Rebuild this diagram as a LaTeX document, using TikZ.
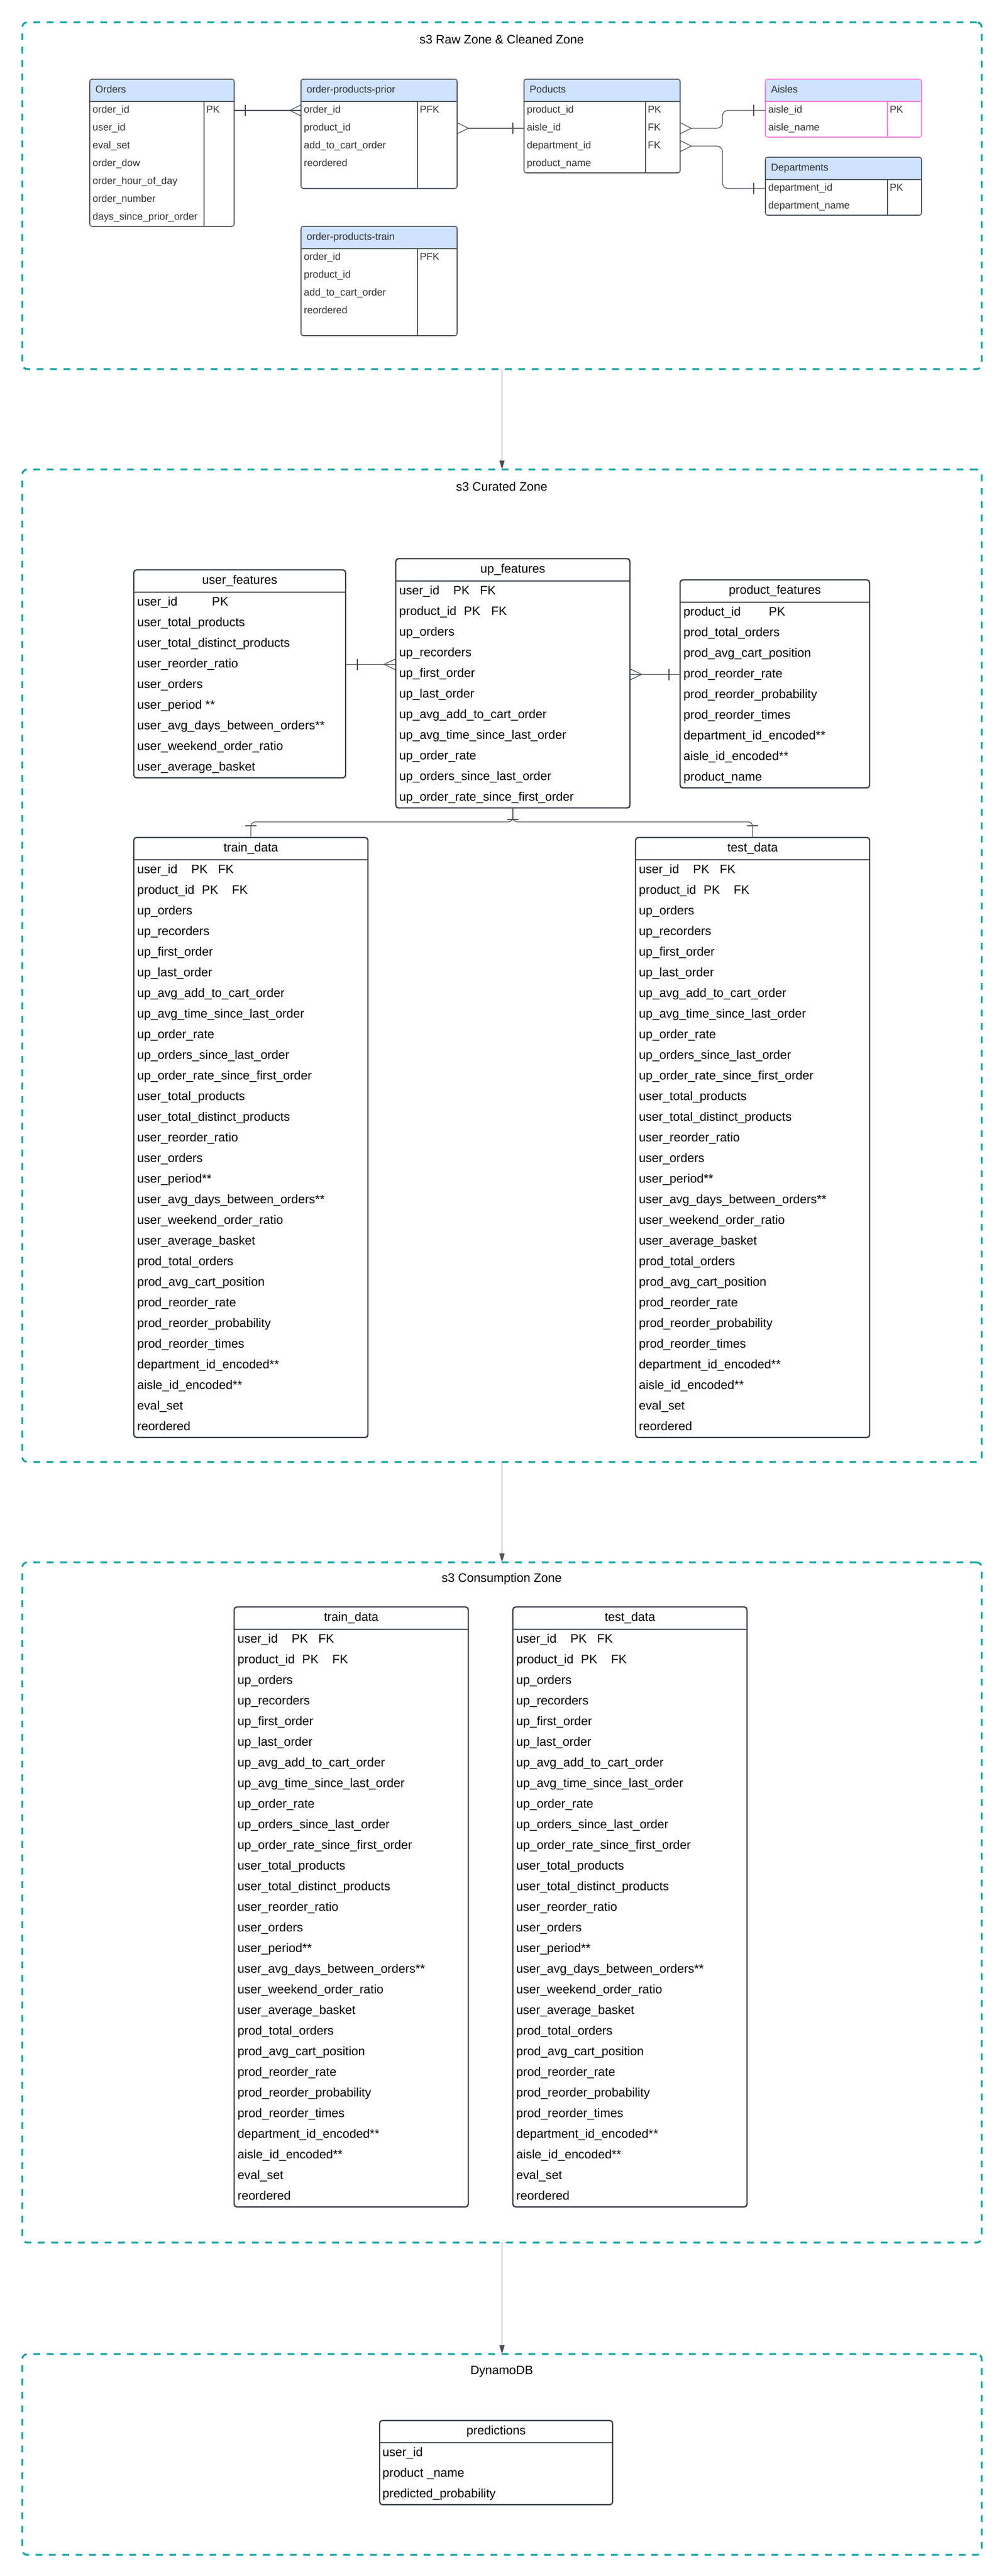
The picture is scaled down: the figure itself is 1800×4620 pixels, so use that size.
\documentclass[tikz,border=0pt]{standalone}
\usepackage{fontspec}
\setmainfont{Liberation Sans}
\usetikzlibrary{arrows.meta,calc}
\definecolor{zoneteal}{RGB}{17,164,162}
\definecolor{hdrblue}{RGB}{207,226,255}
\definecolor{aislepink}{RGB}{255,128,222}
\definecolor{rzline}{RGB}{84,90,98}
\definecolor{ctline}{RGB}{58,64,74}
\definecolor{connline}{RGB}{74,80,88}
\definecolor{txtgray}{RGB}{51,51,51}
\tikzset{
  zonebox/.style={draw=zoneteal, line width=3.3pt, dash pattern=on 12pt off 12pt, rounded corners=9pt, anchor=north west, inner sep=0pt, outer sep=0pt},
  ztitle/.style={font=\fontsize{22}{26}\selectfont, text=black, inner sep=0pt},
  rzbox/.style={draw=rzline, line width=1.6pt, rounded corners=4pt, anchor=north west, inner sep=0pt, outer sep=0pt},
  rztext/.style={font=\fontsize{18}{21}\selectfont, text=txtgray, inner sep=0pt, anchor=west, text height=13pt, text depth=4pt},
  ctbox/.style={draw=ctline, line width=2.4pt, rounded corners=5pt, anchor=north west, inner sep=0pt, outer sep=0pt},
  cttext/.style={font=\fontsize{22}{26}\selectfont, text=black, inner sep=0pt, anchor=west, text height=16pt, text depth=5pt},
  cthead/.style={cttext, anchor=center},
  conn/.style={draw=connline, line width=1.3pt},
  flow/.style={draw=connline, line width=1.3pt, -{Triangle[length=16pt,width=9pt]}},
}
% top-zone ER table: name, x, y, w, h, divider offset, title, extra style
\newcommand\rzTab[8]{%
  \fill[hdrblue, rounded corners=4pt] (#2,#3) rectangle ++(#4,40);
  \fill[hdrblue] (#2,#3+20) rectangle ++(#4,20);
  \node[rzbox, #8, minimum width=#4 pt, minimum height=#5 pt] (#1) at (#2,#3) {};
  \draw[rzline, line width=2pt, #8] (#2,#3+40) -- ++(#4,0);
  \draw[rzline, line width=1.6pt, #8] (#2+#6,#3+40) -- (#2+#6,#3+#5);
  \node[rztext] (#1-t) at (#2+10,#3+20) {#7};
}
% curated-style table: name, x, y, w, nrows, title
\newcommand\cTab[6]{%
  \node[ctbox, minimum width=#4 pt, minimum height={(40+37*#5)*1pt}] (#1) at (#2,#3) {};
  \draw[ctline, line width=2.6pt] (#2,#3+40) -- ++(#4,0);
  \node[cthead] (#1-t) at (#2+#4/2,#3+20) {#6};
}
\def\uplist{up\_orders, up\_recorders, up\_first\_order, up\_last\_order, up\_avg\_add\_to\_cart\_order, up\_avg\_time\_since\_last\_order, up\_order\_rate, up\_orders\_since\_last\_order, up\_order\_rate\_since\_first\_order}
\def\fulllist{up\_orders, up\_recorders, up\_first\_order, up\_last\_order, up\_avg\_add\_to\_cart\_order, up\_avg\_time\_since\_last\_order, up\_order\_rate, up\_orders\_since\_last\_order, up\_order\_rate\_since\_first\_order, user\_total\_products, user\_total\_distinct\_products, user\_reorder\_ratio, user\_orders, user\_period**, user\_avg\_days\_between\_orders**, user\_weekend\_order\_ratio, user\_average\_basket, prod\_total\_orders, prod\_avg\_cart\_position, prod\_reorder\_rate, prod\_reorder\_probability, prod\_reorder\_times, department\_id\_encoded**, aisle\_id\_encoded**, eval\_set, reordered}
\begin{document}
\begin{tikzpicture}[x=1pt,y=-1pt]
\fill[white] (0,0) rectangle (1800,4620);
\useasboundingbox (0,0) rectangle (1800,4620);

% ---------------- zones ----------------
\node[zonebox, minimum width=1721pt, minimum height=622pt] (zraw) at (40,40) {};
\node[zonebox, minimum width=1721pt, minimum height=1780pt] (zcur) at (40,842) {};
\node[zonebox, minimum width=1721pt, minimum height=1220pt] (zcon) at (40,2802) {};
\node[zonebox, minimum width=1721pt, minimum height=360pt] (zdyn) at (40,4222) {};
\node[ztitle] (traw) at (900,71) {s3 Raw Zone \& Cleaned Zone};
\node[ztitle] (tcur) at (900,873) {s3 Curated Zone};
\node[ztitle] (tcon) at (900,2832) {s3 Consumption Zone};
\node[ztitle] (tdyn) at (900,4253) {DynamoDB};
\draw[flow] (zraw.south) -- (zcur.north);
\draw[flow] (zcur.south) -- (zcon.north);
\draw[flow] (zcon.south) -- (zdyn.north);

% ---------------- raw & cleaned zone ----------------
\rzTab{orders}{161}{142}{259}{264}{205}{Orders}{}
\foreach \rw [count=\i] in {order\_id, user\_id, eval\_set, order\_dow, order\_hour\_of\_day, order\_number, days\_since\_prior\_order}
  \node[rztext] (orders-\i) at (166,198+32*\i-32) {\rw};
\node[rztext] (orders-k) at (370,198) {PK};

\rzTab{prior}{540}{142}{280}{196}{209}{order-products-prior}{}
\foreach \rw [count=\i] in {order\_id, product\_id, add\_to\_cart\_order, reordered}
  \node[rztext] (prior-\i) at (545,198+32*\i-32) {\rw};
\node[rztext] (prior-k) at (753,198) {PFK};

\rzTab{otrain}{540}{406}{280}{196}{209}{order-products-train}{}
\foreach \rw [count=\i] in {order\_id, product\_id, add\_to\_cart\_order, reordered}
  \node[rztext] (otrain-\i) at (545,462+32*\i-32) {\rw};
\node[rztext] (otrain-k) at (753,462) {PFK};

\rzTab{products}{940}{142}{280}{168}{218}{Poducts}{}
\foreach \rw [count=\i] in {product\_id, aisle\_id, department\_id, product\_name}
  \node[rztext] (products-\i) at (945,198+32*\i-32) {\rw};
\node[rztext] (products-k1) at (1162,198) {PK};
\node[rztext] (products-k2) at (1162,230) {FK};
\node[rztext] (products-k3) at (1162,262) {FK};

\rzTab{aisles}{1373}{142}{280}{104}{219}{Aisles}{draw=aislepink}
\foreach \rw [count=\i] in {aisle\_id, aisle\_name}
  \node[rztext] (aisles-\i) at (1378,198+32*\i-32) {\rw};
\node[rztext] (aisles-k) at (1596,198) {PK};

\rzTab{depts}{1373}{282}{280}{104}{219}{Departments}{}
\foreach \rw [count=\i] in {department\_id, department\_name}
  \node[rztext] (depts-\i) at (1378,338+32*\i-32) {\rw};
\node[rztext] (depts-k) at (1596,338) {PK};

% connectors raw zone
\draw[conn] (orders.east |- orders-1) -- (prior.west |- prior-1);
\draw[conn] ($(orders.east |- orders-1)+(20,-10)$) -- ++(0,20);
\draw[conn] ($(prior.west |- prior-1)+(0,-10)$) -- ++(-20,10) -- ++(20,10);

\draw[conn] ($(prior.east |- prior-2)+(20,0)$) -- (products.west |- products-2);
\draw[conn] ($(prior.east |- prior-2)+(0,-10)$) -- ++(20,10) -- ++(-20,10);
\draw[conn] ($(products.west |- products-2)+(-20,-10)$) -- ++(0,20);

\draw[conn, rounded corners=10pt] ($(products.east |- products-2)+(20,0)$) -- ++(56,0) |- (aisles.west |- aisles-1);
\draw[conn] ($(products.east |- products-2)+(0,-10)$) -- ++(20,10) -- ++(-20,10);
\draw[conn] ($(aisles.west |- aisles-1)+(-21,-10)$) -- ++(0,20);

\draw[conn, rounded corners=10pt] ($(products.east |- products-3)+(20,0)$) -- ++(56,0) |- (depts.west |- depts-1);
\draw[conn] ($(products.east |- products-3)+(0,-10)$) -- ++(20,10) -- ++(-20,10);
\draw[conn] ($(depts.west |- depts-1)+(-21,-10)$) -- ++(0,20);

% ---------------- curated zone ----------------
\cTab{uf}{240}{1022}{380}{9}{user\_features}
\foreach \rw [count=\i] in {user\_id, user\_total\_products, user\_total\_distinct\_products, user\_reorder\_ratio, user\_orders, user\_period **, user\_avg\_days\_between\_orders**, user\_weekend\_order\_ratio, user\_average\_basket}
  \node[cttext] (uf-\i) at (246,1080.5+37*\i-37) {\rw};
\node[cttext] (uf-k) at (380,1080.5) {PK};

\cTab{upf}{710}{1002}{420}{11}{up\_features}
\node[cttext] (upf-1) at (716,1060.5) {user\_id};
\node[cttext] (upf-1k) at (813,1060.5) {PK};
\node[cttext] (upf-1f) at (861,1060.5) {FK};
\node[cttext] (upf-2) at (716,1097.5) {product\_id};
\node[cttext] (upf-2k) at (832,1097.5) {PK};
\node[cttext] (upf-2f) at (881,1097.5) {FK};
\foreach \rw [count=\i from 3] in \uplist
  \node[cttext] (upf-\i) at (716,1060.5+37*\i-37) {\rw};

\cTab{pf}{1220}{1040}{340}{9}{product\_features}
\foreach \rw [count=\i] in {product\_id, prod\_total\_orders, prod\_avg\_cart\_position, prod\_reorder\_rate, prod\_reorder\_probability, prod\_reorder\_times, department\_id\_encoded**, aisle\_id\_encoded**, product\_name}
  \node[cttext] (pf-\i) at (1226,1098.5+37*\i-37) {\rw};
\node[cttext] (pf-k) at (1379,1098.5) {PK};

% train/test tables (curated and consumption)
\foreach \tbn/\tbx/\tby/\tbt in {trainC/240/1502/train\_data, testC/1140/1502/test\_data, trainD/420/2882/train\_data, testD/920/2882/test\_data}{
  \cTab{\tbn}{\tbx}{\tby}{420}{28}{\tbt}
  \node[cttext] (\tbn-1) at (\tbx+6,\tby+58.5) {user\_id};
  \node[cttext] (\tbn-1k) at (\tbx+103,\tby+58.5) {PK};
  \node[cttext] (\tbn-1f) at (\tbx+151,\tby+58.5) {FK};
  \node[cttext] (\tbn-2) at (\tbx+6,\tby+95.5) {product\_id};
  \node[cttext] (\tbn-2k) at (\tbx+122,\tby+95.5) {PK};
  \node[cttext] (\tbn-2f) at (\tbx+176,\tby+95.5) {FK};
  \foreach \rw [count=\i from 3] in \fulllist
    \node[cttext] (\tbn-\i) at (\tbx+6,\tby+58.5+37*\i-37) {\rw};
}

% connectors curated zone
\draw[conn] (uf.east |- uf-4) -- (upf.west |- uf-4);
\draw[conn] ($(uf.east |- uf-4)+(21,-10)$) -- ++(0,20);
\draw[conn] ($(upf.west |- uf-4)+(0,-10)$) -- ++(-21,10) -- ++(21,10);

\draw[conn] (upf.east |- pf-4) -- (pf.west |- pf-4);
\draw[conn] ($(upf.east |- pf-4)+(0,-10)$) -- ++(21,10) -- ++(-21,10);
\draw[conn] ($(pf.west |- pf-4)+(-20,-10)$) -- ++(0,20);

\draw[conn, rounded corners=8pt] (upf.south) -- ++(0,25) -| (trainC.north);
\draw[conn, rounded corners=8pt] (upf.south) -- ++(0,25) -| (testC.north);
\draw[conn] ($(upf.south)+(-10,21)$) -- ++(20,0);
\draw[conn] ($(trainC.north)+(-10,-21)$) -- ++(20,0);
\draw[conn] ($(testC.north)+(-10,-21)$) -- ++(20,0);

% ---------------- DynamoDB ----------------
\cTab{pred}{681}{4341}{418}{3}{predictions}
\foreach \rw [count=\i] in {user\_id, product \_name, predicted\_probability}
  \node[cttext] (pred-\i) at (686,4399.5+37*\i-37) {\rw};

\end{tikzpicture}
\end{document}
